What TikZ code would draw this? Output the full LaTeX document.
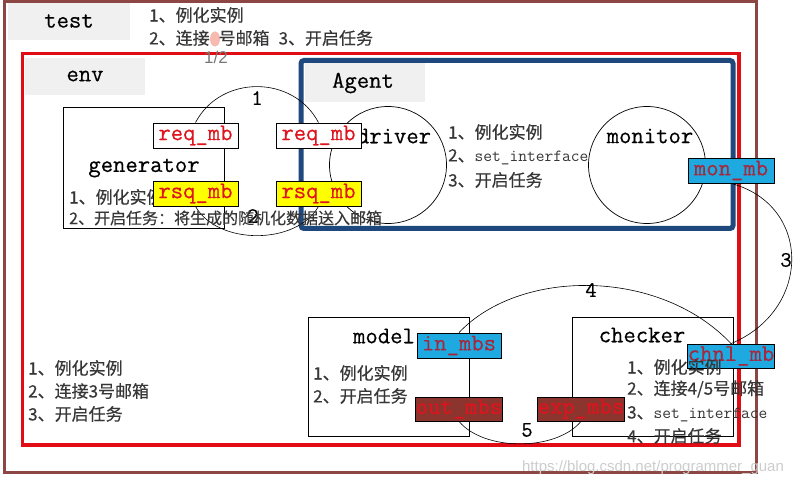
\documentclass[tikz,border=0pt]{standalone}
\usepackage{fontspec}
\newfontfamily\cjk[FakeBold=0.3]{Noto Sans CJK SC}
\newfontfamily\wmfont{Liberation Sans}
\newfontfamily\heavymono[FakeBold=0.5]{Latin Modern Mono}
\definecolor{outerbrown}{RGB}{140,70,68}
\definecolor{envred}{RGB}{226,12,20}
\definecolor{agentblue}{RGB}{31,73,125}
\definecolor{lblbg}{RGB}{240,240,240}
\definecolor{mbcyan}{RGB}{30,170,225}
\definecolor{mbbrown}{RGB}{140,52,46}
\definecolor{mbyellow}{RGB}{255,255,0}
\definecolor{mbred}{RGB}{222,20,30}
\definecolor{mbdark}{RGB}{165,40,60}
\definecolor{notegray}{RGB}{55,55,55}
\definecolor{blobpink}{RGB}{246,186,176}
\begin{document}
\begin{tikzpicture}[x=1pt,y=-1pt,
  bigtt/.style={font=\heavymono\fontsize{24}{24}\selectfont, inner sep=0},
  note/.style={font=\cjk\fontsize{17}{17}\selectfont, text=notegray, inner sep=0, anchor=west},
  mbox/.style={draw, line width=0.8, minimum width=85, minimum height=25, inner sep=0,
    font=\heavymono\fontsize{24}{24}\selectfont},
  wbox/.style={mbox, fill=white, text=mbred},
  ybox/.style={mbox, fill=mbyellow, text=mbred},
  cbox/.style={mbox, fill=mbcyan, text=mbdark},
  bbox/.style={mbox, fill=mbbrown, text=mbred},
  numlbl/.style={font=\heavymono\fontsize{22}{22}\selectfont, inner sep=0},
  conn/.style={draw, line width=0.6},
  plainbox/.style={draw, line width=0.8, anchor=north west, inner sep=0}
]
\useasboundingbox (0,0) rectangle (800,486);
\fill[white] (0,0) rectangle (800,486);

% frames
\draw[outerbrown, line width=3] (4.5,2) rectangle (756,472);
\draw[envred, line width=3.5] (22.5,53.5) rectangle (739,445);
\draw[agentblue, line width=5, rounded corners=3] (301,60.5) rectangle (733,228.5);

% frame labels
\fill[lblbg] (8,3) rectangle (130,40);
\node[bigtt] (testlbl) at (69,21) {test};
\fill[lblbg] (25,58) rectangle (145,95);
\node[bigtt] (envlbl) at (85,76) {env};
\fill[lblbg] (305,63) rectangle (425,102);
\node[bigtt] (agentlbl) at (363,83) {Agent};

% top notes
\fill[blobpink] (215,39) ellipse (5 and 7.5);
\node[note] (tn1) at (149,15) {1、例化实例};
\node[note] (tn2) at (149,38) {2、连接\hspace{9pt}号邮箱\hspace{9pt}3、开启任务};
\node[font=\wmfont\fontsize{17}{17}\selectfont, text={rgb,255:red,120;green,120;blue,120}, inner sep=0] (tn3) at (216,57) {1/2};

% components
\node[plainbox, minimum width=161, minimum height=121] (gen) at (63,107) {};
\node[bigtt] (genlbl) at (144,168) {generator};
\node[draw, line width=0.7, circle, minimum size=117, inner sep=0] (drv) at (388,165) {};
\node[bigtt] (drvlbl) at (394,136) {driver};
\node[draw, line width=0.7, circle, minimum size=117, inner sep=0] (mon) at (647,165) {};
\node[bigtt] (monlbl) at (650,136) {monitor};
\node[plainbox, minimum width=161, minimum height=119] (mdl) at (308,317) {};
\node[bigtt] (mdllbl) at (384,336) {model};
\node[plainbox, minimum width=161, minimum height=119] (chk) at (572,317) {};
\node[bigtt] (chklbl) at (642,335) {checker};

% notes under mailboxes
\node[note] (gn1) at (69,197) {1、例化实例};

% driver notes
\node[note] (dn1) at (448,132) {1、例化实例};
\node[note] (dn2) at (448,157) {2、{\ttfamily\fontsize{17}{17}\selectfont set\_interface}};
\node[note] (dn3) at (448,180) {3、开启任务};

% model notes
\node[note] (mn1) at (313,373) {1、例化实例};
\node[note] (mn2) at (313,396) {2、开启任务};

% env notes
\node[note] (en1) at (28,368) {1、例化实例};
\node[note] (en2) at (28,391) {2、连接3号邮箱};
\node[note] (en3) at (28,414) {3、开启任务};

% mailboxes
\node[wbox] (reqL) at (195.5,135.5) {req\_mb};
\node[wbox] (reqR) at (318.5,135.5) {req\_mb};
\node[ybox] (rsqL) at (195.5,193.5) {rsq\_mb};
\node[ybox] (rsqR) at (318.5,193.5) {rsq\_mb};
\node[cbox, minimum width=86] (monmb) at (731,170.5) {mon\_mb};
\node[cbox, minimum width=84] (inmbs) at (459,345.5) {in\_mbs};
\node[bbox, minimum width=84, minimum height=24] (outmbs) at (459,409) {out\_mbs};
\node[bbox, minimum width=86, minimum height=24] (expmbs) at (581,409) {exp\_mbs};
\node[cbox, minimum width=86, minimum height=24] (chnl) at (731,356) {chnl\_mb};

% connectors
\path[conn] (reqL.north) .. controls +(25,-48) and +(-25,-48) .. (reqR.north);
\path[conn] (rsqL.south) .. controls +(22,39) and +(-22,39) .. (rsqR.south);
\path[conn] (monmb.south) .. controls (812,205) and (812,310) .. (chnl.north);
\path[conn] (inmbs.north) .. controls (520,268) and (660,268) .. (chnl.north);
\path[conn] (outmbs.south) .. controls +(25,30) and +(-25,30) .. (expmbs.south);

% connector labels
\node[numlbl] (l1) at (257,98) {1};
\node[numlbl] (l2) at (253,216) {2};
\node[numlbl] (l3) at (786,260) {3};
\node[numlbl] (l4) at (591,290) {4};
\node[numlbl] (l5) at (527,430) {5};

% generator second note (drawn over)
\node[note, font=\cjk\fontsize{16}{16}\selectfont] (gn2) at (69,218) {2、开启任务：将生成的随机化数据送入邮箱};

% checker notes (drawn over chnl_mb)
\node[note] (cn1) at (627,367) {1、例化实例};
\node[note] (cn2) at (627,389) {2、连接4/5号邮箱};
\node[note] (cn3) at (627,414) {3、{\ttfamily\fontsize{17}{17}\selectfont set\_interface}};
\node[note] (cn4) at (627,436) {4、开启任务};

% watermark
\node[font=\wmfont\fontsize{15}{15}\selectfont, text={rgb,255:red,205;green,205;blue,205}, inner sep=0] (wm) at (653,468) {https://blog.csdn.net/programmer\_guan};
\end{tikzpicture}
\end{document}
